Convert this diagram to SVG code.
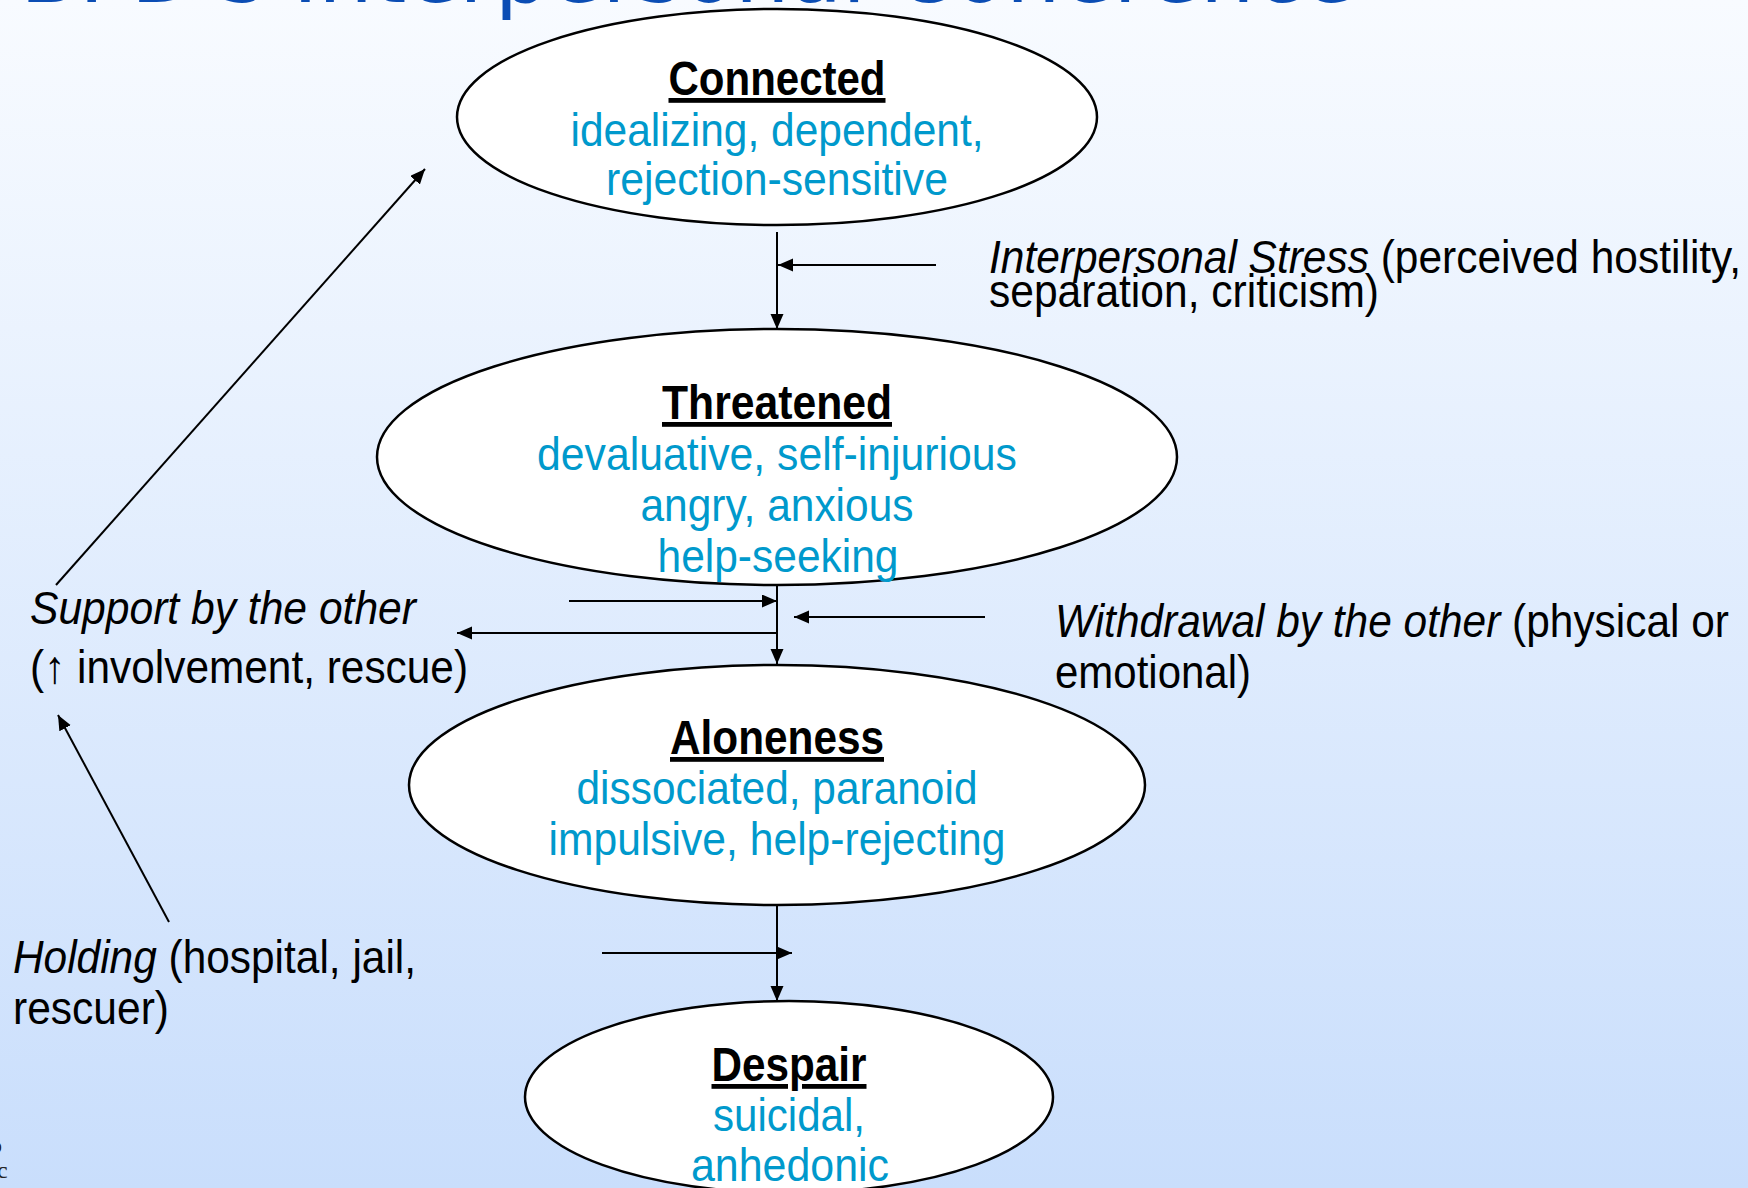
<svg xmlns="http://www.w3.org/2000/svg" width="1748" height="1188" viewBox="0 0 1748 1188">
  <defs>
    <linearGradient id="bg" x1="0" y1="0" x2="0" y2="1">
      <stop offset="0" stop-color="#F8FBFF"/>
      <stop offset="1" stop-color="#C9DEFC"/>
    </linearGradient>
    <marker id="ah" markerUnits="userSpaceOnUse" markerWidth="16" markerHeight="14" refX="15" refY="6.5" orient="auto">
      <path d="M0,0 L15,6.5 L0,13 z" fill="#000"/>
    </marker>
  </defs>
  <style>
    .node { fill: #FFFFFF; stroke: #000; stroke-width: 2.5; }
    .ttl { font-family: "Liberation Sans", Arial, sans-serif; font-size: 48px; font-weight: bold; fill: #000; text-anchor: middle; text-decoration: underline; }
    .sub { font-family: "Liberation Sans", Arial, sans-serif; font-size: 47px; fill: #0099CC; text-anchor: middle; }
    .lbl { font-family: "Liberation Sans", Arial, sans-serif; font-size: 46px; fill: #000; }
    .it { font-style: italic; }
    .conn line { stroke: #000; stroke-width: 2; fill: none; }
    .title { font-family: "DejaVu Sans", Verdana, sans-serif; font-size: 86px; fill: #0B4DB4; }
  </style>
  <rect x="0" y="0" width="1748" height="1188" fill="url(#bg)"/>
  <text class="title" x="20" y="2">BPD's Interpersonal Coherence</text>

  <g id="connectors" class="conn">
    <line x1="777" y1="232" x2="777" y2="329" marker-end="url(#ah)"/>
    <line x1="936" y1="265" x2="778" y2="265" marker-end="url(#ah)"/>
    <line x1="777" y1="585" x2="777" y2="664" marker-end="url(#ah)"/>
    <line x1="569" y1="601" x2="777" y2="601" marker-end="url(#ah)"/>
    <line x1="985" y1="617" x2="794" y2="617" marker-end="url(#ah)"/>
    <line x1="777" y1="633" x2="457" y2="633" marker-end="url(#ah)"/>
    <line x1="777" y1="905" x2="777" y2="1001" marker-end="url(#ah)"/>
    <line x1="602" y1="953" x2="792" y2="953" marker-end="url(#ah)"/>
    <line x1="56" y1="585" x2="425" y2="169" marker-end="url(#ah)"/>
    <line x1="169" y1="922" x2="58" y2="715" marker-end="url(#ah)"/>
  </g>

  <g id="connected">
    <ellipse class="node" cx="777" cy="117" rx="320" ry="108"/>
    <text class="ttl" x="777" y="95" textLength="217" lengthAdjust="spacingAndGlyphs">Connected</text>
    <text class="sub" x="777" y="146" textLength="413" lengthAdjust="spacingAndGlyphs">idealizing, dependent,</text>
    <text class="sub" x="777" y="195" textLength="342" lengthAdjust="spacingAndGlyphs">rejection-sensitive</text>
  </g>

  <g id="threatened">
    <ellipse class="node" cx="777" cy="457" rx="400" ry="128"/>
    <text class="ttl" x="777" y="419" textLength="230" lengthAdjust="spacingAndGlyphs">Threatened</text>
    <text class="sub" x="777" y="470" textLength="480" lengthAdjust="spacingAndGlyphs">devaluative, self-injurious</text>
    <text class="sub" x="777" y="521" textLength="273" lengthAdjust="spacingAndGlyphs">angry, anxious</text>
    <text class="sub" x="778" y="572" textLength="241" lengthAdjust="spacingAndGlyphs">help-seeking</text>
  </g>

  <g id="aloneness">
    <ellipse class="node" cx="777" cy="785" rx="368" ry="120"/>
    <text class="ttl" x="777" y="754" textLength="214" lengthAdjust="spacingAndGlyphs">Aloneness</text>
    <text class="sub" x="777" y="804" textLength="401" lengthAdjust="spacingAndGlyphs">dissociated, paranoid</text>
    <text class="sub" x="777" y="855" textLength="457" lengthAdjust="spacingAndGlyphs">impulsive, help-rejecting</text>
  </g>

  <g id="despair">
    <ellipse class="node" cx="789" cy="1097" rx="264" ry="96"/>
    <text class="ttl" x="789" y="1081" textLength="155" lengthAdjust="spacingAndGlyphs">Despair</text>
    <text class="sub" x="789" y="1131" textLength="152" lengthAdjust="spacingAndGlyphs">suicidal,</text>
    <text class="sub" x="790" y="1181" textLength="198" lengthAdjust="spacingAndGlyphs">anhedonic</text>
  </g>

  <g id="label-stress">
    <text class="lbl" x="989" y="273" textLength="752" lengthAdjust="spacingAndGlyphs"><tspan class="it">Interpersonal Stress</tspan> (perceived hostility,</text>
    <text class="lbl" x="989" y="307" textLength="390" lengthAdjust="spacingAndGlyphs">separation, criticism)</text>
  </g>

  <g id="label-withdrawal">
    <text class="lbl" x="1055" y="637" textLength="674" lengthAdjust="spacingAndGlyphs"><tspan class="it">Withdrawal by the other</tspan> (physical or</text>
    <text class="lbl" x="1055" y="688" textLength="196" lengthAdjust="spacingAndGlyphs">emotional)</text>
  </g>

  <g id="label-support">
    <text class="lbl it" x="30" y="624" textLength="386" lengthAdjust="spacingAndGlyphs">Support by the other</text>
    <text class="lbl" x="30" y="683" textLength="438" lengthAdjust="spacingAndGlyphs">(↑ involvement, rescue)</text>
  </g>

  <g id="label-holding">
    <text class="lbl" x="13" y="973" textLength="403" lengthAdjust="spacingAndGlyphs"><tspan class="it">Holding</tspan> (hospital, jail,</text>
    <text class="lbl" x="13" y="1024" textLength="156" lengthAdjust="spacingAndGlyphs">rescuer)</text>
  </g>

  <g id="corner-fragment" font-family="Liberation Serif, serif" font-size="24" fill="#222">
    <text x="-10" y="1153">o</text>
    <text x="-3" y="1178">c</text>
  </g>
</svg>
